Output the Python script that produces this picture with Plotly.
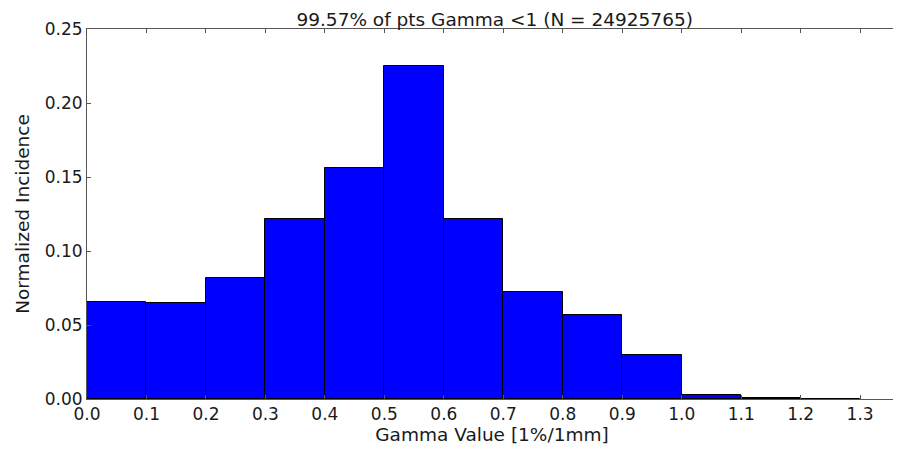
import plotly.graph_objects as go

bin_left = [0.0, 0.1, 0.2, 0.3, 0.4, 0.5, 0.6, 0.7, 0.8, 0.9, 1.0, 1.1, 1.2]
bin_width = 0.1
heights = [0.0657, 0.0651, 0.0818, 0.1216, 0.1559, 0.2248, 0.1216, 0.0721,
           0.0568, 0.0295, 0.0028, 0.0010, 0.0003]
x_ticks = [0.0, 0.1, 0.2, 0.3, 0.4, 0.5, 0.6, 0.7, 0.8, 0.9, 1.0, 1.1, 1.2, 1.3]
y_ticks = [0.00, 0.05, 0.10, 0.15, 0.20, 0.25]

title_text = "99.57% of pts Gamma <1 (N = 24925765)"
x_title = "Gamma Value [1%/1mm]"
y_title = "Normalized Incidence"

TXT = "#1a1a1a"
FONT = "DejaVu Sans"

fig = go.Figure(go.Bar(
    x=bin_left, y=heights, width=[bin_width] * len(bin_left), offset=0,
    marker=dict(color="#0000ff", line=dict(color="#000000", width=1)),
    showlegend=False, hoverinfo="skip",
))

axis_common = dict(
    showgrid=False, zeroline=False, showline=True, linecolor="#555555", linewidth=1,
    mirror="ticks", ticks="inside", ticklen=4, tickcolor="#555555",
    tickfont=dict(family=FONT, size=17, color=TXT),
)

# page body has an 8px margin, so the figure is sized to fit the 901x451 window
fig.update_layout(
    width=893, height=443,
    margin=dict(l=79, r=4, t=21, b=52),
    paper_bgcolor="white", plot_bgcolor="white",
    font=dict(family=FONT, color=TXT),
    title=dict(text=title_text, x=0.545, xanchor="center", y=0.975, yanchor="middle",
               font=dict(family=FONT, size=18.5, color=TXT)),
    bargap=0,
)
fig.update_xaxes(range=[0, 1.362], tickvals=x_ticks,
                 ticktext=[f"{v:.1f}" for v in x_ticks],
                 title=dict(text=x_title, standoff=4,
                            font=dict(family=FONT, size=18.5, color=TXT)),
                 **axis_common)
fig.update_yaxes(range=[0, 0.25], tickvals=y_ticks,
                 ticktext=[f"{v:.2f}" for v in y_ticks],
                 title=dict(text=y_title, standoff=10,
                            font=dict(family=FONT, size=18.5, color=TXT)),
                 **axis_common)

fig.write_html("out.html")
